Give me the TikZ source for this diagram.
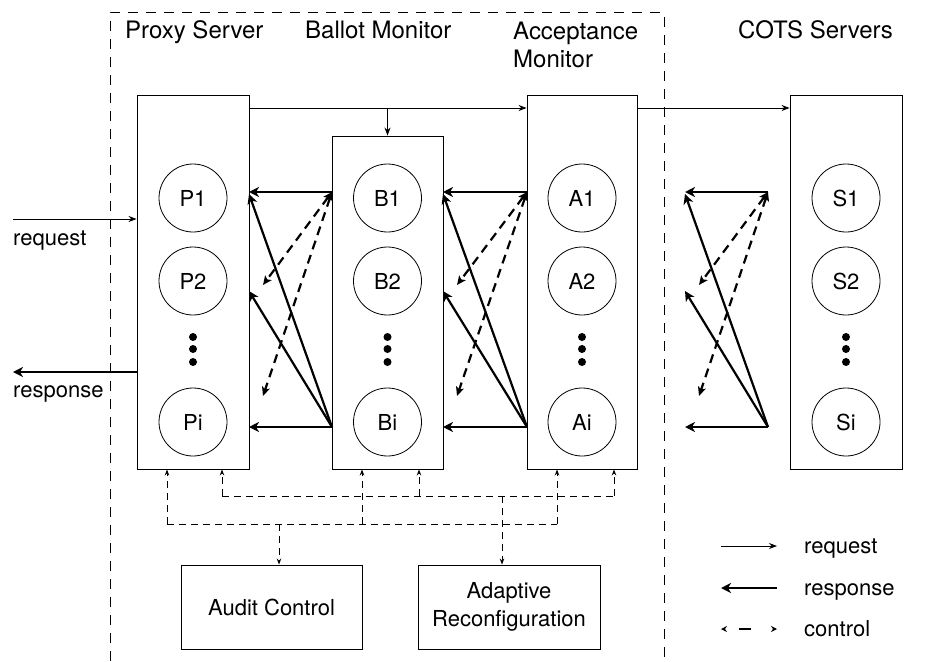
\documentclass[tikz,border=0pt]{standalone}
\usepackage{fontspec}
\setmainfont{TeX Gyre Heros}
\usetikzlibrary{arrows.meta}
\usetikzlibrary{positioning}

\begin{document}
\begin{tikzpicture}[x=1pt,y=-1pt,
    box/.style={draw,line width=0.9pt,inner sep=0pt},
    unit/.style={circle,draw,line width=0.8pt,minimum size=68pt,inner sep=0pt,font=\fontsize{22}{26}\selectfont},
    lbl/.style={inner sep=0pt,anchor=base west,font=\fontsize{22}{26}\selectfont},
    head/.style={lbl,font=\fontsize{24}{28}\selectfont},
    req/.style={line width=0.8pt,-{Stealth[length=8pt,width=6pt]}},
    resp/.style={line width=2.2pt,-{Stealth[length=10pt,width=10pt,inset=3pt]}},
    ctl/.style={line width=2.2pt,dash pattern=on 9pt off 6pt,{Stealth[length=9pt,width=8pt,inset=2pt]}-{Stealth[length=9pt,width=8pt,inset=2pt]}},
    ctlline/.style={line width=0.9pt,dash pattern=on 7pt off 5pt},
    ctlarrow/.style={ctlline,-{Stealth[length=6pt,width=4.5pt]}},
    frame/.style={line width=1pt,dash pattern=on 10pt off 8pt}]
    \useasboundingbox (0,0) rectangle (925,661);

    % outer frame
    \draw[frame] (110,661) -- (110,13) -- (664,13) -- (664,661);

    % column headers
    \node[head] (proxyLbl) at (125,39) {Proxy Server};
    \node[head] (ballotLbl) at (305,39) {Ballot Monitor};
    \node[head,anchor=north west,align=left] (accLbl) at (513,22) {Acceptance\\Monitor};
    \node[head] (cotsLbl) at (738,39) {COTS Servers};

    % columns
    \node[box,minimum width=112pt,minimum height=374pt] (P) at (193,282) {};
    \node[box,minimum width=111pt,minimum height=333pt] (B) at (387.5,302.5) {};
    \node[box,minimum width=110pt,minimum height=374pt] (A) at (582,282) {};
    \node[box,minimum width=112pt,minimum height=374pt] (S) at (846,282) {};

    \foreach \col/\x in {P/193,B/387.5,A/582,S/846} {
      \node[unit] (\col1) at (\x,198) {\col1};
      \node[unit] (\col2) at (\x,281) {\col2};
      \node[unit] (\col i) at (\x,422) {\col i};
      \foreach \y in {337,349,362} \fill (\x,\y) circle (4pt);
    }

    % request flow
    \coordinate (reqTop) at (0,108);
    \coordinate (reqIn) at (13,219);
    \coordinate (respOut) at (13,372);
    \draw[req] (reqIn) -- (reqIn -| P.west);
    \draw[resp] (respOut -| P.west) -- (respOut);
    \node[lbl] (reqLbl) at (13,245) {request};
    \node[lbl] (respLbl) at (13,397) {response};
    \draw[req] (P.east |- reqTop) -- (A.west |- reqTop);
    \draw[req] (B.north |- reqTop) -- (B.north);
    \draw[req] (A.east |- reqTop) -- (S.west |- reqTop);

    % responses and control between stages
    \foreach \g/\l/\r in {pb/249/332, ba/443/527, as/685/768} {
      \coordinate (\g-rt) at (\r,192);
      \coordinate (\g-rb) at (\r,427);
      \coordinate (\g-lt) at (\l,192);
      \coordinate (\g-ld) at (\l,194);
      \coordinate (\g-lm) at (\l,291);
      \coordinate (\g-lb) at (\l,427);
      \coordinate (\g-ct) at (\l+14,285);
      \coordinate (\g-cb) at (\l+14,396);
      \draw[resp] (\g-rt) -- (\g-lt);
      \draw[resp] (\g-rb) -- (\g-lb);
      \draw[resp] (\g-rb) -- (\g-ld);
      \draw[resp] (\g-rb) -- (\g-lm);
      \draw[ctl] (\g-rt) -- (\g-ct);
      \draw[ctl] (\g-rt) -- (\g-cb);
    }

    % control units
    \node[box,minimum width=181pt,minimum height=84pt,font=\fontsize{22}{28}\selectfont] (audit) at (271.5,607) {Audit Control};
    \node[box,minimum width=182pt,minimum height=84pt,align=center,font=\fontsize{22}{28}\selectfont] (adapt) at (509,607) {Adaptive\\Reconfiguration};

    \coordinate (lo1) at (167,524);
    \coordinate (lo2) at (362,524);
    \coordinate (lo3) at (557,524);
    \coordinate (loA) at (279,524);
    \coordinate (up1) at (222,496);
    \coordinate (up2) at (419,496);
    \coordinate (up3) at (614,496);
    \coordinate (upA) at (502,496);
    \draw[ctlline] (lo1) -- (lo3);
    \draw[ctlline] (up1) -- (up3);
    \draw[ctlarrow] (lo1) -- (lo1 |- P.south);
    \draw[ctlarrow] (up1) -- (up1 |- P.south);
    \draw[ctlarrow] (lo2) -- (lo2 |- B.south);
    \draw[ctlarrow] (up2) -- (up2 |- B.south);
    \draw[ctlarrow] (lo3) -- (lo3 |- A.south);
    \draw[ctlarrow] (up3) -- (up3 |- A.south);
    \draw[ctlarrow] (loA) -- (loA |- audit.north);
    \draw[ctlarrow] (upA) -- (upA |- adapt.north);

    % legend
    \coordinate (k1l) at (721,546); \coordinate (k1r) at (777,546);
    \coordinate (k2l) at (721,588); \coordinate (k2r) at (777,588);
    \coordinate (k3l) at (721,629); \coordinate (k3r) at (777,629);
    \draw[req] (k1l) -- (k1r);
    \draw[resp] (k2r) -- (k2l);
    \draw[line width=1.3pt,dash pattern=on 0pt off 14pt on 12pt off 30pt,{Stealth[length=6pt,width=6pt]}-{Stealth[length=6pt,width=6pt]}] (k3l) -- (k3r);
    \node[lbl] (keyReq) at (804,553) {request};
    \node[lbl] (keyResp) at (804,595) {response};
    \node[lbl] (keyCtl) at (804,636) {control};
\end{tikzpicture}
\end{document}
